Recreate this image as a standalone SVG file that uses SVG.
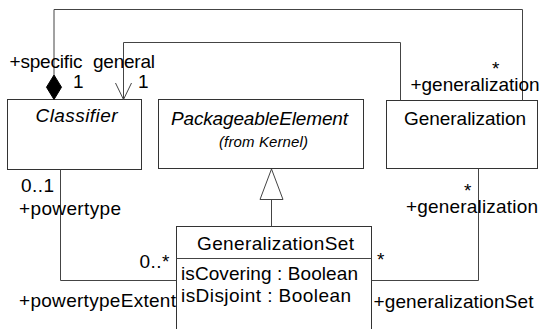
<svg xmlns="http://www.w3.org/2000/svg" width="542" height="329" viewBox="0 0 542 329">
<style>
  .box { fill: #ffffff; stroke: #333333; stroke-width: 1; }
  .line { fill: none; stroke: #444444; stroke-width: 1; }
  text { font-family: "Liberation Sans", Arial, sans-serif; font-size: 19px; fill: #000000; }
  .it { font-style: italic; }
  .mid { text-anchor: middle; }
  .small { font-size: 15px; }
</style>
<rect x="0" y="0" width="542" height="329" fill="#ffffff"/>
<g id="Classifier">
  <rect class="box" x="7.5" y="99.5" width="134" height="70"/>
  <text class="it" x="35.5" y="122" textLength="82" lengthAdjust="spacing">Classifier</text>
</g>
<g id="PackageableElement">
  <rect class="box" x="158.5" y="99.5" width="205" height="69"/>
  <text class="it" x="171" y="125" textLength="177" lengthAdjust="spacing">PackageableElement</text>
  <text class="it small" x="219" y="147" textLength="89" lengthAdjust="spacing">(from Kernel)</text>
</g>
<g id="Generalization">
  <rect class="box" x="386.5" y="100.5" width="151" height="68"/>
  <text x="404" y="125" textLength="122" lengthAdjust="spacing">Generalization</text>
</g>
<g id="GeneralizationSet">
  <rect class="box" x="176.5" y="226.5" width="195" height="120"/>
  <line class="line" x1="176.5" y1="258.5" x2="371.5" y2="258.5"/>
  <text x="197" y="250" textLength="157" lengthAdjust="spacing">GeneralizationSet</text>
  <text x="181" y="280" textLength="177" lengthAdjust="spacing">isCovering : Boolean</text>
  <text x="181" y="301.5" textLength="170" lengthAdjust="spacing">isDisjoint : Boolean</text>
</g>
<g id="connectors">
  <g id="specific-generalization">
    <path class="line" d="M54,75 V9.5 H522.5 V100.5"/>
    <polygon points="54,75 61.5,87.2 54,99.5 46.5,87.2" fill="#000000" stroke="#000000" stroke-width="1"/>
    <text x="9.5" y="68" textLength="73" lengthAdjust="spacing">+specific</text>
    <text x="73" y="88">1</text>
    <text x="492" y="75">*</text>
    <text x="410.5" y="91" textLength="129" lengthAdjust="spacing">+generalization</text>
  </g>
  <g id="general-generalization">
    <path class="line" d="M123.5,99.5 V42.5 H400.5 V100.5"/>
    <polyline class="line" points="115.5,83 123.5,99.5 131.5,83"/>
    <text x="93" y="68" textLength="62" lengthAdjust="spacing">general</text>
    <text x="138" y="88">1</text>
  </g>
  <g id="powertype">
    <path class="line" d="M60.5,169.5 V280.5 H176.5"/>
    <text x="21" y="192" textLength="33" lengthAdjust="spacing">0..1</text>
    <text x="19" y="215" textLength="102" lengthAdjust="spacing">+powertype</text>
    <text x="139.5" y="268" textLength="30" lengthAdjust="spacing">0..*</text>
    <text x="19" y="307" textLength="157" lengthAdjust="spacing">+powertypeExtent</text>
  </g>
  <g id="generalizationSet">
    <path class="line" d="M478.5,168.5 V280.5 H371.5"/>
    <text x="464" y="197">*</text>
    <text x="406" y="213" textLength="132" lengthAdjust="spacing">+generalization</text>
    <text x="377" y="265.5">*</text>
    <text x="373.5" y="308" textLength="160" lengthAdjust="spacing">+generalizationSet</text>
  </g>
  <g id="inheritance">
    <line class="line" x1="271.5" y1="226.5" x2="271.5" y2="199.5"/>
    <polygon class="line" points="271.5,169 283,199.5 260,199.5" fill="#ffffff"/>
  </g>
</g>
</svg>
